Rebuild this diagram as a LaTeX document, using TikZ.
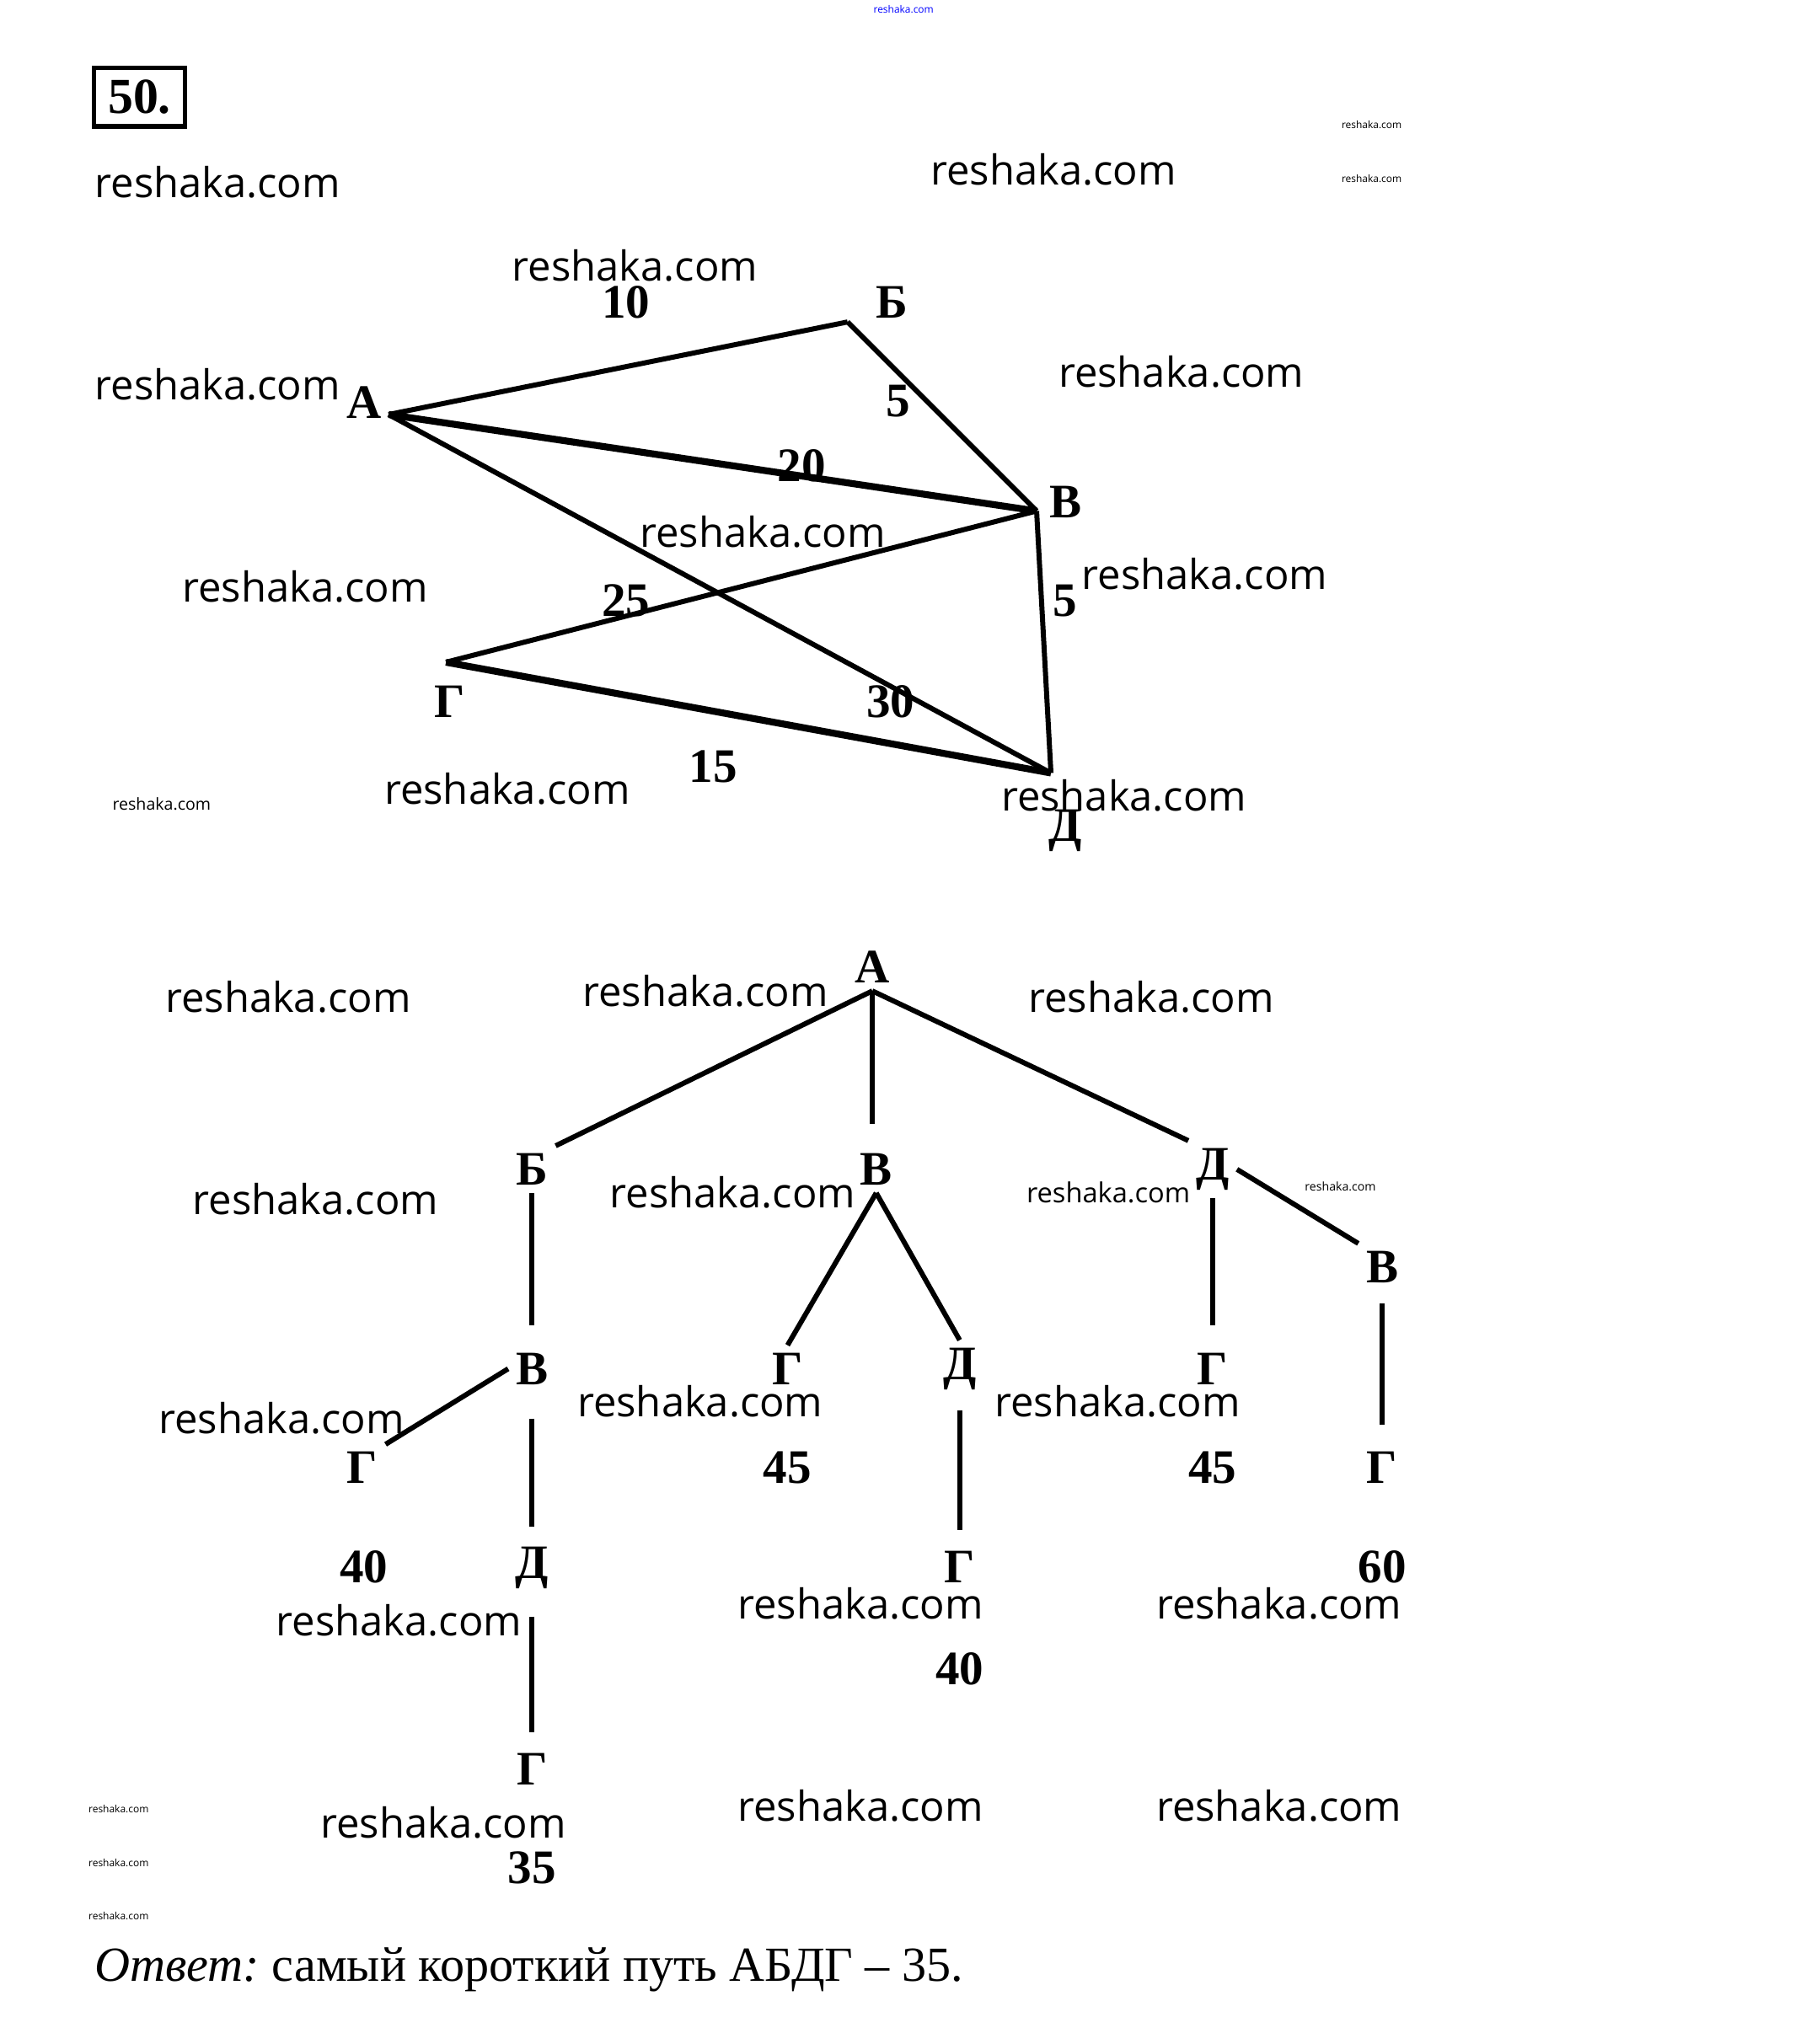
\documentclass[tikz,border=0pt]{standalone}
\usepackage{fontspec}
\setmainfont{Liberation Serif}
\newfontfamily\wmfont{Open Sans}
\usepackage{tikz}
\usetikzlibrary{positioning}

\begin{document}
\begin{tikzpicture}[
    lbl/.style={font=\bfseries\fontsize{10.5}{12}\selectfont, inner sep=1.5pt}, % вершины и веса
    wm/.style={font=\wmfont\fontsize{9}{10}\selectfont, inner sep=0pt},
    wmm/.style={font=\wmfont\fontsize{6}{7}\selectfont, inner sep=0pt},
    wms/.style={font=\wmfont\fontsize{2.2}{3}\selectfont, inner sep=0pt},
    edge/.style={line width=1.1pt}
    ]
\useasboundingbox (0,0) rectangle (13.85,-15.68);

% номер
\node[draw, line width=1pt, minimum width=0.70cm, minimum height=0.45cm, inner sep=0pt,
      font=\bfseries\fontsize{11}{12}\selectfont] (num) at (1.07,-0.745) {50.};

% граф
\coordinate (A) at (2.98,-3.18);
\coordinate (B) at (6.50,-2.47);
\coordinate (V) at (7.95,-3.92);
\coordinate (G) at (3.42,-5.08);
\coordinate (D) at (8.06,-5.93);
\node[lbl] (lA) at (2.79,-3.09) {А};
\node[lbl] (lB) at (6.84,-2.32) {Б};
\node[lbl] (lV) at (8.17,-3.85) {В};
\node[lbl] (lG) at (3.45,-5.38) {Г};
\node[lbl] (lD) at (8.17,-6.37) {Д};

\draw[edge] (A) -- (B);
\draw[edge] (B) -- (V);
\draw[edge, line width=1.5pt] (A) -- (V);
\draw[edge] (A) -- (D);
\draw[edge] (V) -- (G);
\draw[edge] (V) -- (D);
\draw[edge, line width=1.5pt] (G) -- (D);

\node[lbl] (wAB) at (4.80,-2.32) {10};
\node[lbl] (wBV) at (6.89,-3.08) {5};
\node[lbl] (wAV) at (6.15,-3.57) {20};
\node[lbl] (wAD) at (6.83,-5.38) {30};
\node[lbl] (wVG) at (4.80,-4.61) {25};
\node[lbl] (wVD) at (8.17,-4.61) {5};
\node[lbl] (wGD) at (5.47,-5.88) {15};

% дерево
\node[lbl] (tA) at (6.69,-7.42) {А};
\node[lbl] (tB) at (4.08,-8.97) {Б};
\node[lbl] (tV) at (6.72,-8.97) {В};
\node[lbl] (tD) at (9.30,-8.97) {Д};
\node[lbl] (tDV) at (10.60,-9.72) {В};
\node[lbl] (tBV) at (4.08,-10.50) {В};
\node[lbl] (tVG) at (6.04,-10.50) {Г};
\node[lbl] (tVD) at (7.36,-10.50) {Д};
\node[lbl] (tDG) at (9.30,-10.50) {Г};
\node[lbl] (tBVG) at (2.78,-11.26) {Г};
\node[lbl] (tDVG) at (10.60,-11.26) {Г};
\node[lbl] (tBVD) at (4.08,-12.03) {Д};
\node[lbl] (tVDG) at (7.36,-12.02) {Г};
\node[lbl] (tBVDG) at (4.08,-13.57) {Г};

\draw[edge] (tA.south) -- (tB.north east);
\draw[edge, shorten >=0.17cm] (tA.south) -- (tV.north -| tA.south);
\draw[edge] (tA.south) -- (tD.north west);
\draw[edge] (tD.east) -- (tDV.north west);
\draw[edge, shorten >=0.15cm] (tB.south) -- (tBV.north);
\draw[edge] (tV.south) -- (tVG.north);
\draw[edge] (tV.south) -- (tVD.north);
\draw[edge, shorten >=0.15cm] (tD.south) -- (tDG.north);
\draw[edge, shorten <=0.1cm, shorten >=0.15cm] (tDV.south) -- (tDVG.north);
\draw[edge] (tBV.west) -- (tBVG.north east);
\draw[edge, shorten <=0.2cm, shorten >=0.1cm] (tBV.south) -- (tBVD.north);
\draw[edge, shorten <=0.1cm, shorten >=0.1cm] (tVD.south) -- (tVDG.north);
\draw[edge, shorten <=0.15cm, shorten >=0.1cm] (tBVD.south) -- (tBVDG.north);

\node[lbl] (s1) at (2.79,-12.02) {40};
\node[lbl] (s2) at (6.04,-11.26) {45};
\node[lbl] (s3) at (9.30,-11.26) {45};
\node[lbl] (s4) at (7.36,-12.80) {40};
\node[lbl] (s5) at (10.60,-12.02) {60};
\node[lbl] (s6) at (4.08,-14.33) {35};

% водяные знаки
\node[wms, text=blue] (w0) at (6.93,-0.07) {reshaka.com};
\node[wm] (w1) at (1.67,-1.40) {reshaka.com};
\node[wm] (w2) at (8.08,-1.30) {reshaka.com};
\node[wms] (w3) at (10.52,-0.96) {reshaka.com};
\node[wms] (w4) at (10.52,-1.37) {reshaka.com};
\node[wm] (w5) at (4.87,-2.04) {reshaka.com};
\node[wm] (w6) at (1.67,-2.95) {reshaka.com};
\node[wm] (w7) at (9.06,-2.85) {reshaka.com};
\node[wm] (w8) at (5.85,-4.08) {reshaka.com};
\node[wm] (w9) at (2.34,-4.50) {reshaka.com};
\node[wm] (w10) at (9.24,-4.40) {reshaka.com};
\node[wm] (w11) at (3.89,-6.05) {reshaka.com};
\node[wm] (w12) at (8.62,-6.10) {reshaka.com};
\node[wms, font=\wmfont\fontsize{3.6}{4}\selectfont] (w13) at (1.24,-6.17) {reshaka.com};
\node[wm] (w14) at (2.21,-7.65) {reshaka.com};
\node[wm] (w15) at (5.41,-7.60) {reshaka.com};
\node[wm] (w16) at (8.83,-7.65) {reshaka.com};
\node[wm] (w17) at (2.42,-9.20) {reshaka.com};
\node[wm] (w18) at (5.62,-9.15) {reshaka.com};
\node[wmm] (w19) at (8.50,-9.15) {reshaka.com};
\node[wms, font=\wmfont\fontsize{2.6}{3}\selectfont] (w20) at (10.28,-9.10) {reshaka.com};
\node[wm] (w21) at (2.16,-10.88) {reshaka.com};
\node[wm] (w22) at (5.37,-10.75) {reshaka.com};
\node[wm] (w23) at (8.57,-10.75) {reshaka.com};
\node[wm] (w24) at (3.06,-12.43) {reshaka.com};
\node[wm] (w25) at (6.60,-12.30) {reshaka.com};
\node[wm] (w26) at (9.81,-12.30) {reshaka.com};
\node[wm] (w27) at (3.40,-13.98) {reshaka.com};
\node[wm] (w28) at (6.60,-13.85) {reshaka.com};
\node[wm] (w29) at (9.81,-13.85) {reshaka.com};
\node[wms] (w30) at (0.91,-13.88) {reshaka.com};
\node[wms] (w31) at (0.91,-14.29) {reshaka.com};
\node[wms] (w32) at (0.91,-14.70) {reshaka.com};

% ответ
\node[anchor=base west, inner sep=0pt, font=\fontsize{10.7}{13}\selectfont] (ans) at (0.72,-15.20)
    {\textit{Ответ:}~самый короткий путь АБДГ – 35.};
\end{tikzpicture}
\end{document}
